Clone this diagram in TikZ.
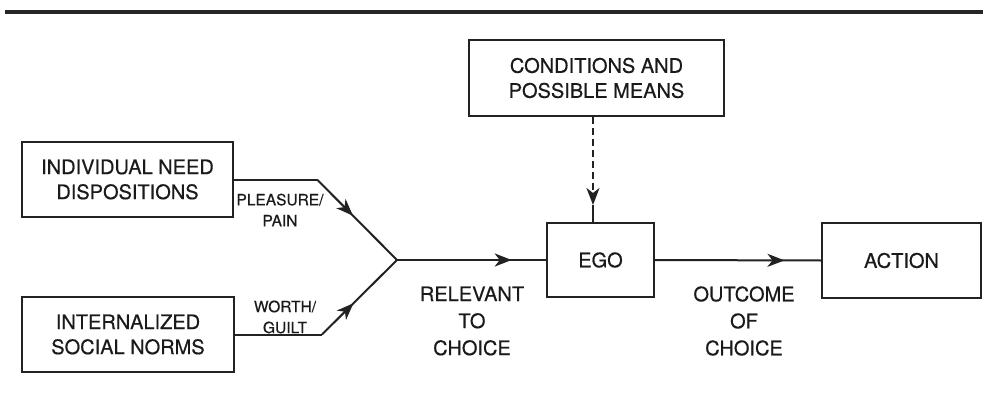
\documentclass[tikz,border=0pt]{standalone}
\usepackage{fontspec}
\setmainfont{TeX Gyre Heros}[FakeBold=0.5]
\usetikzlibrary{arrows.meta,decorations.markings}
\definecolor{ink}{HTML}{1A1A1A}
\definecolor{linec}{HTML}{222222}
\tikzset{
  box/.style={draw=linec, line width=2pt, inner sep=0pt, align=center, text=ink,
    font=\fontsize{20}{25}\selectfont},
  conn/.style={draw=linec, line width=2pt},
  tip/.tip={Stealth[length=17pt,width=13pt,inset=5pt]},
  midarrow/.style={postaction={decorate}, decoration={markings,
    mark=at position #1 with {\arrow{tip}}}},
  smalllbl/.style={text=ink, align=center, inner sep=0pt, font=\fontsize{15.5}{21}\selectfont},
  biglbl/.style={text=ink, align=center, inner sep=0pt, font=\fontsize{20}{27}\selectfont},
}
\begin{document}
\begin{tikzpicture}[x=1pt, y=-1pt]
\useasboundingbox (0,0) rectangle (983,396);
% top rule
\coordinate (rl) at (5,12);
\coordinate (rr) at (983,12);
\draw[line width=4.5pt, draw=black!85] (rl) -- (rr);

\node[box, minimum width=211pt, minimum height=75pt] (ind) at (127.5,179.5) {INDIVIDUAL NEED\\DISPOSITIONS};
\node[box, minimum width=212pt, minimum height=75pt] (int) at (128,334.5) {INTERNALIZED\\SOCIAL NORMS};
\node[box, minimum width=255pt, minimum height=76pt] (cond) at (596.5,78) {CONDITIONS AND\\POSSIBLE MEANS};
\node[box, minimum width=107pt, minimum height=74pt] (ego) at (600.5,260) {EGO};
\node[box, minimum width=159pt, minimum height=75pt] (act) at (901.5,260.5) {ACTION};

\coordinate (k1) at (317,179.5);
\coordinate (k2) at (322,334.5);
\coordinate (J) at (397,260);
\coordinate (dx) at (593,0);
\coordinate (dtip) at (593,205);

\draw[conn] (ind.east) -- (k1);
\draw[conn, midarrow=0.45] (k1) -- (J);
\draw[conn] (int.east) -- (k2);
\draw[conn, midarrow=0.42] (k2) -- (J);
\draw[conn, midarrow=0.77] (J) -- (ego.west);
\draw[conn, midarrow=0.78] (ego.east) -- (act.west);
\draw[conn, dash pattern=on 7pt off 4pt, -tip] (cond.south -| dx) -- (dtip);
\draw[conn] (dtip) -- (ego.north -| dx);

\node[smalllbl] (l1) at (280,210) {PLEASURE/\\PAIN};
\node[smalllbl] (l2) at (285,317) {WORTH/\\GUILT};
\node[biglbl] (l3) at (472,321) {RELEVANT\\TO\\CHOICE};
\node[biglbl] (l4) at (744,321) {OUTCOME\\OF\\CHOICE};
\end{tikzpicture}
\end{document}
